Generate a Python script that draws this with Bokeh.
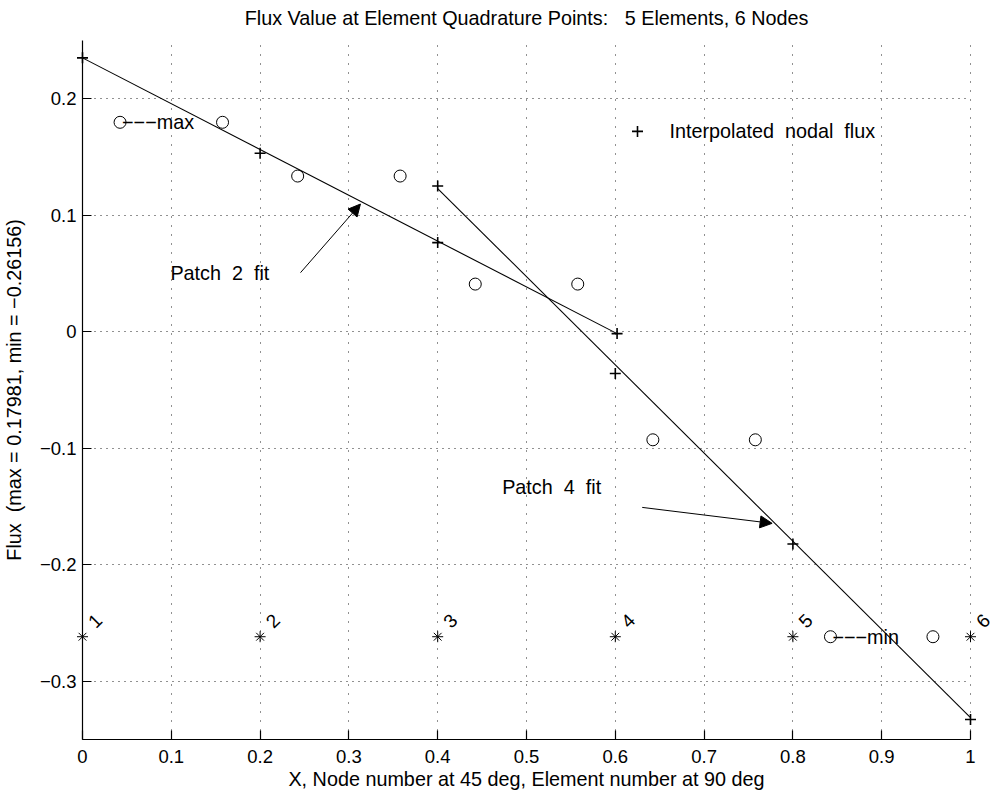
import math
from bokeh.plotting import figure
from bokeh.models import Range1d, FixedTicker, Label, Arrow, NormalHead
from bokeh.core.properties import value
from bokeh.embed import file_html
from bokeh.resources import INLINE

# ---------------- data ----------------
node_x = [0.0, 0.2, 0.4, 0.6, 0.8, 1.0]
node_labels = ["1", "2", "3", "4", "5", "6"]
flux_max = 0.17981
flux_min = -0.26156
node_y = [-0.26156, -0.26156, -0.26156, -0.26156, -0.26156, -0.26156]

gauss_x = [0.0423, 0.1577, 0.2423, 0.3577, 0.4423, 0.5577, 0.6423, 0.7577, 0.8423, 0.9577]
gauss_flux = [0.17981, 0.17981, 0.1337, 0.1337, 0.0410, 0.0410, -0.0926, -0.0926, -0.26156, -0.26156]

interp_x = [0.0, 0.2, 0.4, 0.4, 0.602, 0.6, 0.8, 1.0]
interp_flux = [0.2351, 0.1532, 0.0766, 0.1252, -0.0015, -0.0357, -0.1820, -0.3326]

patch2_x = [0.0, 0.602]
patch2_y = [0.2351, -0.0015]
patch4_x = [0.4, 1.0]
patch4_y = [0.1230, -0.3310]

x_ticks = [0.0, 0.1, 0.2, 0.3, 0.4, 0.5, 0.6, 0.7, 0.8, 0.9, 1.0]
x_tick_labels = ["0", "0.1", "0.2", "0.3", "0.4", "0.5", "0.6", "0.7", "0.8", "0.9", "1"]
y_ticks = [-0.3, -0.2, -0.1, 0.0, 0.1, 0.2]
y_tick_labels = ["\u22120.3", "\u22120.2", "\u22120.1", "0", "0.1", "0.2"]

NB = "\u00a0"
title_text = "Flux Value at Element Quadrature Points:" + NB + NB + " 5 Elements, 6 Nodes"
x_label = "X, Node number at 45 deg, Element number at 90 deg"
y_label = "Flux" + NB + " (max = 0.17981, min = \u22120.26156)"

# ---------------- layout ----------------
FONT = "Liberation Sans"
W, H = 994, 796
PX_X = 888.0      # pixels per x unit
PX_Y = 1165.5     # pixels per y unit
XMIN, XMAX = 0.0, 1.0
YMIN, YMAX = -0.35, 0.25
LEFT_PX, TOP_PX = 82.0, 40.0

x_range = Range1d(XMIN - LEFT_PX / PX_X, XMIN + (W - LEFT_PX) / PX_X)
y_range = Range1d(YMAX - (H - TOP_PX) / PX_Y, YMAX + TOP_PX / PX_Y)

p = figure(width=W, height=H, x_range=x_range, y_range=y_range,
           output_backend="svg", toolbar_location=None, min_border=0)
p.outline_line_color = None
p.background_fill_color = "white"
p.border_fill_color = "white"

xa = p.xaxis[0]
ya = p.yaxis[0]
xa.fixed_location = YMIN
ya.fixed_location = XMIN
xa.bounds = (XMIN, XMAX)
ya.bounds = (YMIN, YMAX)
xa.ticker = FixedTicker(ticks=x_ticks)
ya.ticker = FixedTicker(ticks=y_ticks)
xa.major_label_overrides = {t: l for t, l in zip(x_ticks, x_tick_labels)}
ya.major_label_overrides = {t: l for t, l in zip(y_ticks, y_tick_labels)}
xa.axis_label = x_label
ya.axis_label = y_label
for ax in (xa, ya):
    ax.axis_line_color = "black"
    ax.axis_line_width = 1.2
    ax.major_tick_line_color = "black"
    ax.major_tick_line_width = 1.2
    ax.major_tick_in = 9
    ax.major_tick_out = 0
    ax.minor_tick_line_color = None
    ax.major_label_text_font = FONT
    ax.major_label_text_font_size = "18.5px"
    ax.major_label_text_color = "black"
    ax.axis_label_text_font = FONT
    ax.axis_label_text_font_size = "19.8px"
    ax.axis_label_text_font_style = "normal"
    ax.axis_label_text_color = "black"
xa.major_label_standoff = 10
xa.axis_label_standoff = 2
ya.major_label_standoff = 6
ya.axis_label_standoff = 12

xg = p.xgrid[0]
yg = p.ygrid[0]
xg.ticker = FixedTicker(ticks=x_ticks)
yg.ticker = FixedTicker(ticks=y_ticks)
xg.bounds = (XMIN - 0.001, XMAX + 0.001)
yg.bounds = (YMIN, YMAX)
manual_grid = False
try:
    xg.cross_bounds = (YMIN, YMAX)
    yg.cross_bounds = (XMIN, XMAX)
except AttributeError:
    manual_grid = True
for g, dash in ((xg, "1 8"), (yg, "1 5")):
    g.grid_line_color = "#222222"
    g.grid_line_width = 1
    g.grid_line_dash = dash
if manual_grid:
    xg.visible = False
    yg.visible = False
    p.segment(x0=x_ticks, y0=[YMIN] * len(x_ticks), x1=x_ticks, y1=[YMAX] * len(x_ticks),
              line_color="#222222", line_dash="1 8", line_width=1)
    p.segment(x0=[XMIN] * len(y_ticks), y0=y_ticks, x1=[XMAX] * len(y_ticks), y1=y_ticks,
              line_color="#222222", line_dash="1 5", line_width=1)

# ---------------- marks ----------------
p.line(patch2_x, patch2_y, line_color="black", line_width=1.1)
p.line(patch4_x, patch4_y, line_color="black", line_width=1.1)

p.scatter(gauss_x, gauss_flux, marker="circle", size=12, fill_color=None,
          line_color="black", line_width=1)
p.scatter(interp_x, interp_flux, marker="cross", size=11, line_color="black", line_width=1.6)
p.scatter(node_x, node_y, marker="asterisk", size=11, line_color="black", line_width=1)

p.text(x=node_x, y=node_y, text=node_labels, angle=math.pi / 4, x_offset=9, y_offset=-12,
       text_align="left", text_baseline="middle", text_font=value(FONT),
       text_font_size="19px", text_color="black")

# legend-like entry
p.scatter([0.625], [0.172], marker="cross", size=11, line_color="black", line_width=1.6)


def add_label(x, y, text, align="left", xo=0, yo=0):
    p.add_layout(Label(x=x, y=y, text=text, x_offset=xo, y_offset=yo,
                       text_align=align, text_baseline="middle",
                       text_font=FONT, text_font_size="19.8px", text_color="black"))


add_label(0.661, 0.172, "Interpolated" + NB + " nodal" + NB + " flux")
add_label(0.099, 0.0506, "Patch" + NB + " 2" + NB + " fit")
add_label(0.4726, -0.1329, "Patch" + NB + " 4" + NB + " fit")
add_label(gauss_x[0], flux_max, "\u2212\u2212\u2212max", xo=2)
add_label(gauss_x[8], flux_min, "\u2212\u2212\u2212min", xo=2)
add_label(0.5, YMAX + 23 / PX_Y, title_text, align="center")

for xs, ys, xe, ye in ((0.2455, 0.0508, 0.313, 0.1097), (0.6303, -0.1506, 0.7766, -0.1643)):
    p.add_layout(Arrow(end=NormalHead(size=12, fill_color="black", line_color="black", line_width=1),
                       x_start=xs, y_start=ys, x_end=xe, y_end=ye,
                       line_color="black", line_width=1))

open("out.html", "w").write(file_html(p, INLINE))
